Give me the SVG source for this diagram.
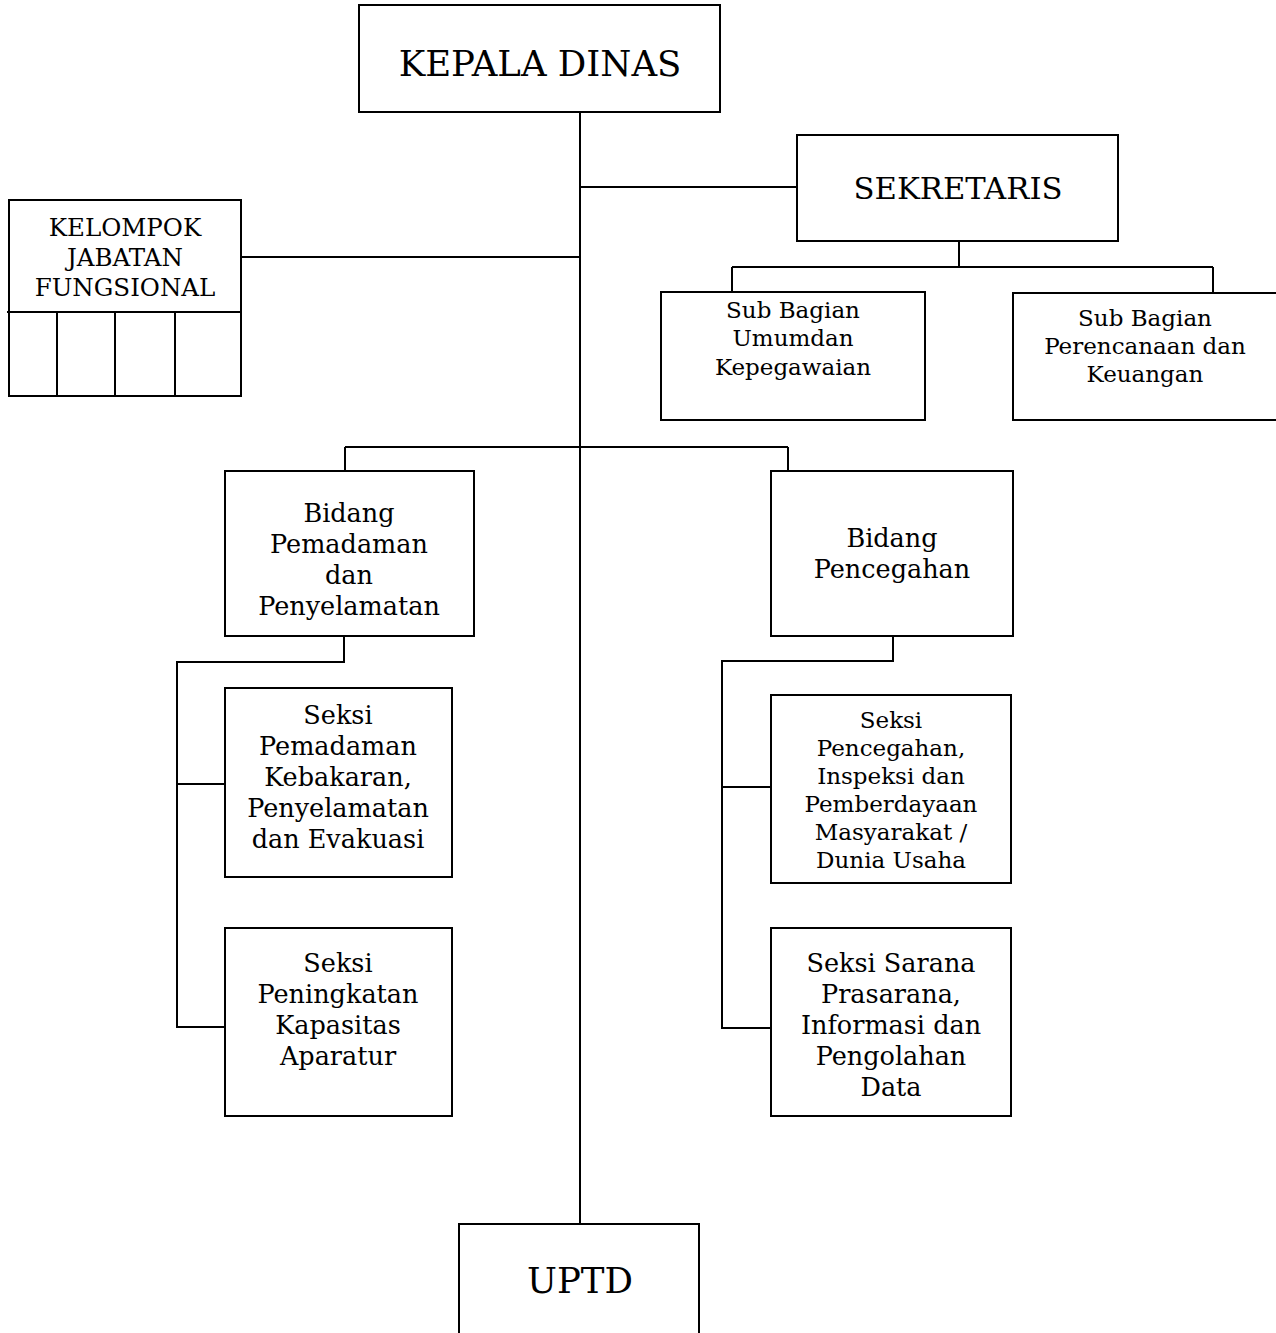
<svg xmlns="http://www.w3.org/2000/svg" width="1276" height="1333" viewBox="0 0 1276 1333">
  <style>
    .box { fill: #ffffff; stroke: #000000; stroke-width: 2; }
    .ln { fill: none; stroke: #000000; stroke-width: 2; }
    text { font-family: "DejaVu Serif", "Liberation Serif", serif; fill: #000000; text-anchor: middle; }
    .big { font-size: 35.5px; }
    .mid { font-size: 30.7px; }
    .t24 { font-size: 24.5px; }
    .t26 { font-size: 25.5px; }
    .t21 { font-size: 23px; }
  </style>
  <rect width="1276" height="1333" fill="#ffffff"/>

  <!-- connectors -->
  <g id="connectors">
    <path class="ln" d="M580 112 V1224"/>
    <path class="ln" d="M580 187 H797"/>
    <path class="ln" d="M241 257 H580"/>
    <path class="ln" d="M959 241 V267 M732 267 H1213 M732 267 V292 M1213 267 V293"/>
    <path class="ln" d="M345 447 H788 M345 447 V471 M788 447 V471"/>
    <path class="ln" d="M344 636 V662 H177 V1027 H225 M177 784 H225"/>
    <path class="ln" d="M893 636 V661 H722 V1028 H771 M722 787 H771"/>
  </g>

  <g id="kepala-dinas">
    <rect class="box" x="359" y="5" width="361" height="107"/>
    <text class="big" x="540" y="76">KEPALA DINAS</text>
  </g>

  <g id="sekretaris">
    <rect class="box" x="797" y="135" width="321" height="106"/>
    <text class="mid" x="958" y="199">SEKRETARIS</text>
  </g>

  <g id="kelompok-jabatan-fungsional">
    <rect class="box" x="9" y="200" width="232" height="196"/>
    <path class="ln" d="M7 312 H241 M57 312 V396 M115 312 V396 M175 312 V396"/>
    <text class="t24" x="125" y="236">KELOMPOK</text>
    <text class="t24" x="125" y="266">JABATAN</text>
    <text class="t24" x="125" y="296">FUNGSIONAL</text>
  </g>

  <g id="subbag-umum">
    <rect class="box" x="661" y="292" width="264" height="128"/>
    <text class="t21" x="793" y="318">Sub Bagian</text>
    <text class="t21" x="793" y="346">Umumdan</text>
    <text class="t21" x="793" y="375">Kepegawaian</text>
  </g>

  <g id="subbag-perencanaan">
    <rect class="box" x="1013" y="293" width="270" height="127"/>
    <text class="t21" x="1145" y="326">Sub Bagian</text>
    <text class="t21" x="1145" y="354">Perencanaan dan</text>
    <text class="t21" x="1145" y="382">Keuangan</text>
  </g>

  <g id="bidang-pemadaman">
    <rect class="box" x="225" y="471" width="249" height="165"/>
    <text class="t26" x="349" y="522">Bidang</text>
    <text class="t26" x="349" y="553">Pemadaman</text>
    <text class="t26" x="349" y="584">dan</text>
    <text class="t26" x="349" y="615">Penyelamatan</text>
  </g>

  <g id="bidang-pencegahan">
    <rect class="box" x="771" y="471" width="242" height="165"/>
    <text class="t26" x="892" y="547">Bidang</text>
    <text class="t26" x="892" y="578">Pencegahan</text>
  </g>

  <g id="seksi-pemadaman">
    <rect class="box" x="225" y="688" width="227" height="189"/>
    <text class="t26" x="338" y="724">Seksi</text>
    <text class="t26" x="338" y="755">Pemadaman</text>
    <text class="t26" x="338" y="786">Kebakaran,</text>
    <text class="t26" x="338" y="817">Penyelamatan</text>
    <text class="t26" x="338" y="848">dan Evakuasi</text>
  </g>

  <g id="seksi-peningkatan">
    <rect class="box" x="225" y="928" width="227" height="188"/>
    <text class="t26" x="338" y="972">Seksi</text>
    <text class="t26" x="338" y="1003">Peningkatan</text>
    <text class="t26" x="338" y="1034">Kapasitas</text>
    <text class="t26" x="338" y="1065">Aparatur</text>
  </g>

  <g id="seksi-pencegahan">
    <rect class="box" x="771" y="695" width="240" height="188"/>
    <text class="t21" x="891" y="728">Seksi</text>
    <text class="t21" x="891" y="756">Pencegahan,</text>
    <text class="t21" x="891" y="784">Inspeksi dan</text>
    <text class="t21" x="891" y="812">Pemberdayaan</text>
    <text class="t21" x="891" y="840">Masyarakat /</text>
    <text class="t21" x="891" y="868">Dunia Usaha</text>
  </g>

  <g id="seksi-sarana">
    <rect class="box" x="771" y="928" width="240" height="188"/>
    <text class="t26" x="891" y="972">Seksi Sarana</text>
    <text class="t26" x="891" y="1003">Prasarana,</text>
    <text class="t26" x="891" y="1034">Informasi dan</text>
    <text class="t26" x="891" y="1065">Pengolahan</text>
    <text class="t26" x="891" y="1096">Data</text>
  </g>

  <g id="uptd">
    <rect class="box" x="459" y="1224" width="240" height="120"/>
    <text class="big" x="580" y="1293">UPTD</text>
  </g>
</svg>
